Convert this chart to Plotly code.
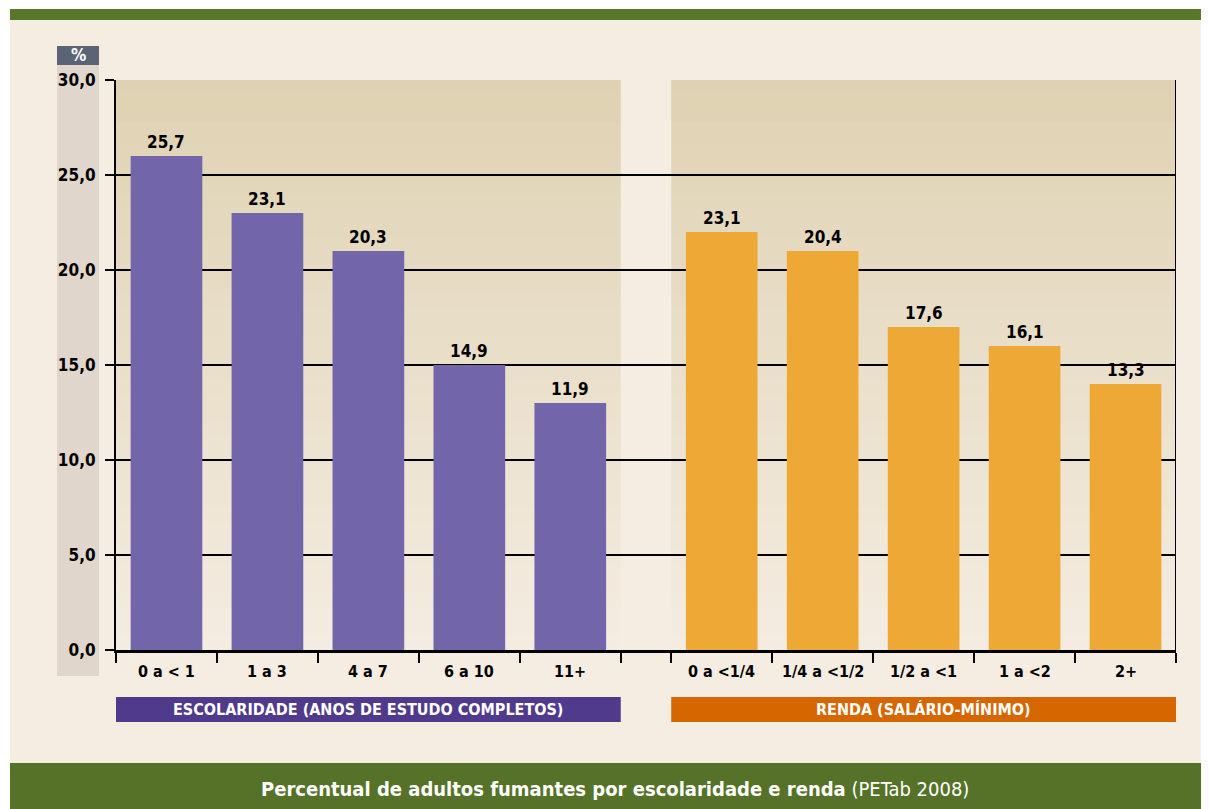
import plotly.graph_objects as go

# ---- data ----
school_cats = ["0 a < 1", "1 a 3", "4 a 7", "6 a 10", "11+"]
school_heights = [26.0, 23.0, 21.0, 15.0, 13.0]      # bar heights as drawn
school_labels = ["25,7", "23,1", "20,3", "14,9", "11,9"]  # printed values
income_cats = ["0 a <1/4", "1/4 a <1/2", "1/2 a <1", "1 a <2", "2+"]
income_heights = [22.0, 21.0, 17.0, 16.0, 14.0]
income_labels = ["23,1", "20,4", "17,6", "16,1", "13,3"]
y_ticks = [0, 5, 10, 15, 20, 25, 30]
group_titles = ["ESCOLARIDADE (ANOS DE ESTUDO COMPLETOS)", "RENDA (SALÁRIO-MÍNIMO)"]
title_main = "Percentual de adultos fumantes por escolaridade e renda"
title_src = "(PETab 2008)"

FONT = "Liberation Sans Narrow, DejaVu Sans Condensed, Arial Narrow, sans-serif"
OFF = 8  # page body margin
W, H = 1209 - OFF, 809 - OFF
L, R, T, B = 116, 1176, 80, 650  # plot area pixels in reference coordinates

def px(x):
    return (x - L) / (R - L)

def py(y):
    return (B - y) / (B - T)

PURPLE = "#7365AA"
ORANGE = "#EEA835"
CREAM = "#F5EDE2"
GREEN = "#567229"

school_x = [i + 0.5 for i in range(len(school_cats))]
gap_start = len(school_cats)
income_start = gap_start + 0.5
income_x = [income_start + i + 0.5 for i in range(len(income_cats))]
x_end = income_start + len(income_cats)

fig = go.Figure()
fig.add_trace(go.Bar(x=school_x, y=school_heights, width=0.71,
                     marker=dict(color=PURPLE, line=dict(width=0)), hoverinfo="skip"))
fig.add_trace(go.Bar(x=income_x, y=income_heights, width=0.71,
                     marker=dict(color=ORANGE, line=dict(width=0)), hoverinfo="skip"))

shapes = []
shapes.append(dict(type="rect", xref="paper", yref="paper", x0=px(10), x1=px(1215), y0=py(20), y1=py(763),
                   fillcolor=CREAM, line=dict(width=0), layer="below"))
shapes.append(dict(type="rect", xref="paper", yref="paper", x0=px(10), x1=px(1215), y0=py(9), y1=py(20),
                   fillcolor="#5A782B", line=dict(width=0), layer="below"))
shapes.append(dict(type="rect", xref="paper", yref="paper", x0=px(10), x1=px(1215), y0=py(763), y1=py(815),
                   fillcolor=GREEN, line=dict(width=0), layer="below"))
shapes.append(dict(type="rect", xref="paper", yref="paper", x0=px(57), x1=px(99), y0=py(65), y1=py(676),
                   fillcolor="#E0D6CB", line=dict(width=0), layer="below"))
shapes.append(dict(type="rect", xref="paper", yref="paper", x0=px(57), x1=px(99), y0=py(46), y1=py(65),
                   fillcolor="#5A6474", line=dict(width=0), layer="below"))
# gradient plot background (stacked bands, no seams)
top_c = (0xDF, 0xD2, 0xB3)
bot_c = (0xF4, 0xEC, 0xE1)
n = 40
for k in range(n):
    t = k / (n - 1)
    c = tuple(int(round(bot_c[j] + (top_c[j] - bot_c[j]) * t)) for j in range(3))
    y0 = 30 * k / n
    shapes.append(dict(type="rect", xref="x", yref="y", x0=0, x1=x_end, y0=y0, y1=30,
                       fillcolor="rgb(%d,%d,%d)" % c, line=dict(width=0), layer="below"))
shapes.append(dict(type="rect", xref="x", yref="y", x0=gap_start, x1=income_start, y0=0, y1=30,
                   fillcolor=CREAM, line=dict(width=0), layer="below"))
shapes.append(dict(type="line", xref="x", yref="y", x0=x_end, x1=x_end, y0=0, y1=30,
                   line=dict(color="black", width=2)))
shapes.append(dict(type="rect", xref="x", yref="paper", x0=0, x1=gap_start, y0=py(722), y1=py(697),
                   fillcolor="#4F3A8C", line=dict(width=0)))
shapes.append(dict(type="rect", xref="x", yref="paper", x0=income_start, x1=x_end, y0=py(722), y1=py(697),
                   fillcolor="#D66600", line=dict(width=0)))

annotations = []
for xs, hs, labs in ((school_x, school_heights, school_labels), (income_x, income_heights, income_labels)):
    for x, h, lab in zip(xs, hs, labs):
        annotations.append(dict(x=x, y=h, xref="x", yref="y", text=lab, showarrow=False,
                                xanchor="center", yanchor="bottom", yshift=2,
                                font=dict(family=FONT, size=17, color="black", weight="bold")))
for xs, cats in ((school_x, school_cats), (income_x, income_cats)):
    for x, c in zip(xs, cats):
        annotations.append(dict(x=x, y=py(672), xref="x", yref="paper", text=c, showarrow=False,
                                xanchor="center", yanchor="middle",
                                font=dict(family=FONT, size=16, color="black", weight="bold")))
annotations.append(dict(x=gap_start / 2, y=py(710), xref="x", yref="paper", text=group_titles[0],
                        showarrow=False, xanchor="center", yanchor="middle",
                        font=dict(family=FONT, size=16, color="white", weight="bold")))
annotations.append(dict(x=(income_start + x_end) / 2, y=py(710), xref="x", yref="paper", text=group_titles[1],
                        showarrow=False, xanchor="center", yanchor="middle",
                        font=dict(family=FONT, size=16, color="white", weight="bold")))
annotations.append(dict(x=px(78), y=py(55.5), xref="paper", yref="paper", text="%", showarrow=False,
                        xanchor="center", yanchor="middle",
                        font=dict(family=FONT, size=17, color="white", weight="bold")))
annotations.append(dict(x=px(615), y=py(789), xref="paper", yref="paper",
                        text="<b>" + title_main + "</b> " + title_src, showarrow=False,
                        xanchor="center", yanchor="middle",
                        font=dict(family=FONT, size=20, color="white")))

boundaries = [float(i) for i in range(gap_start + 1)] + [income_start + i for i in range(len(income_cats) + 1)]

fig.update_layout(
    width=W, height=H, autosize=False,
    margin=dict(l=L - OFF, r=1209 - R, t=T - OFF, b=809 - B, pad=0),
    paper_bgcolor="white", plot_bgcolor="rgba(0,0,0,0)",
    separators=",.",
    showlegend=False, barmode="overlay",
    shapes=shapes, annotations=annotations,
    xaxis=dict(range=[0, x_end], tickvals=boundaries, ticktext=[""] * len(boundaries),
               showticklabels=False, ticks="outside", ticklen=10, tickwidth=2, tickcolor="black",
               showline=True, linecolor="black", linewidth=2.5, showgrid=False, zeroline=False,
               fixedrange=True),
    yaxis=dict(range=[0, 30], tickvals=y_ticks, tickformat=".1f", ticks="outside", ticklen=9,
               tickwidth=2, tickcolor="black", showline=True, linecolor="black", linewidth=2,
               showgrid=True, gridcolor="black", gridwidth=1.5, zeroline=False,
               ticklabelstandoff=6,
               tickfont=dict(family=FONT, size=17, color="black", weight="bold"), fixedrange=True),
)

fig.write_html("out.html")
